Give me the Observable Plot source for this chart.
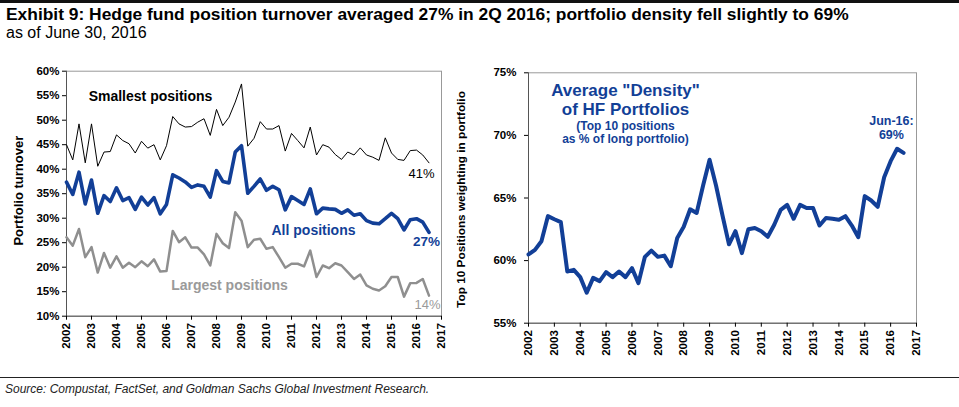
<!DOCTYPE html>
<html>
<head>
<meta charset="utf-8">
<script src="https://cdn.jsdelivr.net/npm/d3@7"></script>
<script src="https://cdn.jsdelivr.net/npm/@observablehq/plot@0.6"></script>
<style>
  html, body { margin: 0; padding: 0; background: #fff; }
  #wrap { position: relative; width: 959px; height: 407px; overflow: hidden; font-family: "Liberation Sans", Arial, sans-serif; }
  #topline { position: absolute; left: 0; top: 0; width: 959px; height: 3px; background: #111; }
  #title { position: absolute; left: 6px; top: 4px; font-family: "Liberation Sans Narrow", "Arial Narrow", "Liberation Sans", sans-serif; font-stretch: condensed; font-weight: bold; font-size: 17.4px; color: #000; white-space: nowrap; }
  #subtitle { position: absolute; left: 6px; top: 24px; font-family: "Liberation Sans Narrow", "Arial Narrow", "Liberation Sans", sans-serif; font-stretch: condensed; font-size: 16px; color: #000; white-space: nowrap; }
  #left { position: absolute; left: 0; top: 50px; }
  #right { position: absolute; left: 445px; top: 50px; }
  #botline { position: absolute; left: 0; top: 377px; width: 959px; height: 1px; background: #222; }
  #source { position: absolute; left: 5px; top: 382px; font-style: italic; font-size: 12px; color: #222; white-space: nowrap; }
</style>
</head>
<body>
<div id="wrap">
  <div id="topline"></div>
  <div id="title">Exhibit 9: Hedge fund position turnover averaged 27% in 2Q 2016; portfolio density fell slightly to 69%</div>
  <div id="subtitle">as of June 30, 2016</div>
  <div id="left"></div>
  <div id="right"></div>
  <div id="botline"></div>
  <div id="source">Source: Compustat, FactSet, and Goldman Sachs Global Investment Research.</div>
</div>
<script>
// Quarterly observations (decimal years)
const quarters = [
  2002.00, 2002.25, 2002.50, 2002.75, 2003.00, 2003.25, 2003.50, 2003.75,
  2004.00, 2004.25, 2004.50, 2004.75, 2005.00, 2005.25, 2005.50, 2005.75,
  2006.00, 2006.25, 2006.50, 2006.75, 2007.00, 2007.25, 2007.50, 2007.75,
  2008.00, 2008.25, 2008.50, 2008.75, 2009.00, 2009.25, 2009.50, 2009.75,
  2010.00, 2010.25, 2010.50, 2010.75, 2011.00, 2011.25, 2011.50, 2011.75,
  2012.00, 2012.25, 2012.50, 2012.75, 2013.00, 2013.25, 2013.50, 2013.75,
  2014.00, 2014.25, 2014.50, 2014.75, 2015.00, 2015.25, 2015.50, 2015.75,
  2016.00, 2016.25, 2016.50
];
// Portfolio turnover (%)
const smallest = [45.0,41.9,49.25,41.3,49.25,40.6,43.5,43.6,47.0,45.85,45.2,43.3,45.7,44.3,45.0,41.9,44.8,50.75,49.25,48.6,48.7,49.6,50.3,46.9,52.2,48.9,50.6,53.7,57.4,
  44.7,46.3,49.7,48.2,48.2,48.9,43.7,47.3,45.85,44.35,48.6,42.9,45.0,44.5,43.0,42.0,43.5,42.9,44.35,42.9,42.45,41.8,46.4,43.3,42.0,41.8,43.8,43.9,42.9,41.3];
const allPositions = [37.36,34.84,39.4,32.9,37.8,31.0,34.6,33.4,36.2,33.6,34.2,31.8,34.3,32.7,34.2,30.9,32.8,38.85,38.2,37.4,36.3,36.8,36.5,34.3,39.7,37.5,37.2,43.5,44.8,
  35.1,36.5,38.0,35.7,36.5,35.8,31.7,34.4,33.6,32.8,36.0,30.9,32.05,31.9,31.8,31.0,31.7,30.6,30.9,29.5,29.0,28.85,29.9,31.0,29.9,27.6,29.7,29.9,29.2,27.1];
const largest = [26.1,24.4,27.8,22.05,24.1,18.9,22.9,19.9,22.2,19.9,20.9,20.0,21.2,20.2,21.6,19.1,19.2,27.4,25.1,26.1,24.0,24.0,22.6,20.35,26.8,24.9,23.9,31.2,29.5,
  24.1,25.6,25.8,23.75,24.1,22.05,19.9,20.7,20.7,20.15,23.4,18.0,20.35,19.8,20.8,20.35,19.0,17.6,18.5,16.3,15.6,15.25,16.1,18.0,18.0,14.0,16.75,16.8,17.6,14.2];
// Top 10 positions as % of long portfolio
const density = [60.49,60.86,61.55,63.55,63.3,63.07,59.13,59.26,58.68,57.43,58.62,58.36,59.08,58.68,59.13,58.68,59.4,58.2,60.3,60.8,60.3,60.4,59.55,61.8,62.7,64.1,63.8,66.0,68.05,
  66.0,63.6,61.3,62.35,60.6,62.5,62.6,62.35,61.9,62.86,64.05,64.45,63.34,64.45,64.2,64.2,62.8,63.4,63.34,63.26,63.55,62.8,61.87,65.15,64.8,64.3,66.66,67.94,68.93,68.6];

const yearTicks = [2002,2003,2004,2005,2006,2007,2008,2009,2010,2011,2012,2013,2014,2015,2016,2017];
const leftTicks = [10,15,20,25,30,35,40,45,50,55,60];
const rightTicks = [55,60,65,70,75];

const blue = "#123f97";
const grey = "#8f8f8f";
const font = "'Liberation Sans', Arial, sans-serif";

const rows = (vals) => quarters.map((q, i) => ({x: q, y: vals[i]}));

const left = Plot.plot({
  width: 445, height: 310,
  marginLeft: 66, marginRight: 4, marginTop: 20.7, marginBottom: 44.3,
  style: {fontFamily: font, fontWeight: "bold", background: "transparent", overflow: "visible"},
  x: {domain: [2002, 2017]},
  y: {domain: [10, 60]},
  marks: [
    Plot.frame({stroke: "#999"}),
    Plot.ruleX([2002], {stroke: "#555"}),
    Plot.ruleY([10], {stroke: "#555"}),
    Plot.axisX({ticks: yearTicks, tickFormat: d => String(d), tickRotate: -90, tickSize: 4, tickPadding: 3, fontSize: 11.5, fontWeight: "bold", label: null, fill: "#000"}),
    Plot.axisY({ticks: leftTicks, tickFormat: d => d + "%", tickSize: 4, tickPadding: 3, fontSize: 11.5, fontWeight: "bold", label: null, fill: "#000"}),
    Plot.line(rows(smallest), {x: "x", y: "y", stroke: "#000", strokeWidth: 1}),
    Plot.line(rows(largest), {x: "x", y: "y", stroke: grey, strokeWidth: 2.5}),
    Plot.line(rows(allPositions), {x: "x", y: "y", stroke: blue, strokeWidth: 3.6}),
    Plot.text(["Smallest positions"], {x: 2005.36, y: 54.8, fontSize: 14, fontWeight: "bold", fill: "#000"}),
    Plot.text(["All positions"], {x: 2011.88, y: 27.5, fontSize: 14, fontWeight: "bold", fill: blue}),
    Plot.text(["Largest positions"], {x: 2008.52, y: 16.3, fontSize: 14, fontWeight: "bold", fill: "#9a9a9a"}),
    Plot.text(["41%"], {x: 2016.2, y: 39.1, fontSize: 13, fontWeight: "normal", fill: "#000"}),
    Plot.text(["27%"], {x: 2016.4, y: 25.2, fontSize: 13.5, fontWeight: "bold", fill: blue}),
    Plot.text(["14%"], {x: 2016.44, y: 12.4, fontSize: 13, fontWeight: "normal", fill: "#9a9a9a"}),
    Plot.text(["Portfolio turnover"], {frameAnchor: "left", textAnchor: "middle", rotate: -90, dx: -48, dy: -3, fontSize: 13, fontWeight: "bold", fill: "#000"})
  ]
});
document.getElementById("left").appendChild(left);

const right = Plot.plot({
  width: 514, height: 310,
  marginLeft: 83, marginRight: 43, marginTop: 22.3, marginBottom: 37.3,
  style: {fontFamily: font, fontWeight: "bold", background: "transparent", overflow: "visible"},
  x: {domain: [2002, 2017]},
  y: {domain: [55, 75]},
  marks: [
    Plot.frame({stroke: "#999"}),
    Plot.ruleX([2002], {stroke: "#555"}),
    Plot.ruleY([55], {stroke: "#555"}),
    Plot.axisX({ticks: yearTicks, tickFormat: d => String(d), tickRotate: -90, tickSize: 4, tickPadding: 3, fontSize: 11.5, fontWeight: "bold", label: null, fill: "#000"}),
    Plot.axisY({ticks: rightTicks, tickFormat: d => d + "%", tickSize: 4, tickPadding: 8, fontSize: 11.5, fontWeight: "bold", label: null, fill: "#000"}),
    Plot.line(rows(density), {x: "x", y: "y", stroke: blue, strokeWidth: 4}),
    Plot.text(["Average \"Density\""], {x: 2005.75, y: 73.59, fontSize: 17, fontWeight: "bold", fill: blue}),
    Plot.text(["of HF Portfolios"], {x: 2005.75, y: 72.07, fontSize: 17, fontWeight: "bold", fill: blue}),
    Plot.text(["(Top 10 positions"], {x: 2005.75, y: 70.7, fontSize: 12, fontWeight: "bold", fill: blue}),
    Plot.text(["as % of long portfolio)"], {x: 2005.75, y: 69.67, fontSize: 12, fontWeight: "bold", fill: blue}),
    Plot.text(["Jun-16:"], {x: 2016.03, y: 71.19, fontSize: 12.5, fontWeight: "bold", fill: blue}),
    Plot.text(["69%"], {x: 2016.03, y: 70.07, fontSize: 12.5, fontWeight: "bold", fill: blue}),
    Plot.text(["Top 10 Positions weighting in portfolio"], {frameAnchor: "left", textAnchor: "middle", rotate: -90, dx: -67.3, dy: 1.5, fontSize: 11.8, fontWeight: "bold", fill: "#000"})
  ]
});
document.getElementById("right").appendChild(right);
</script>
</body>
</html>
